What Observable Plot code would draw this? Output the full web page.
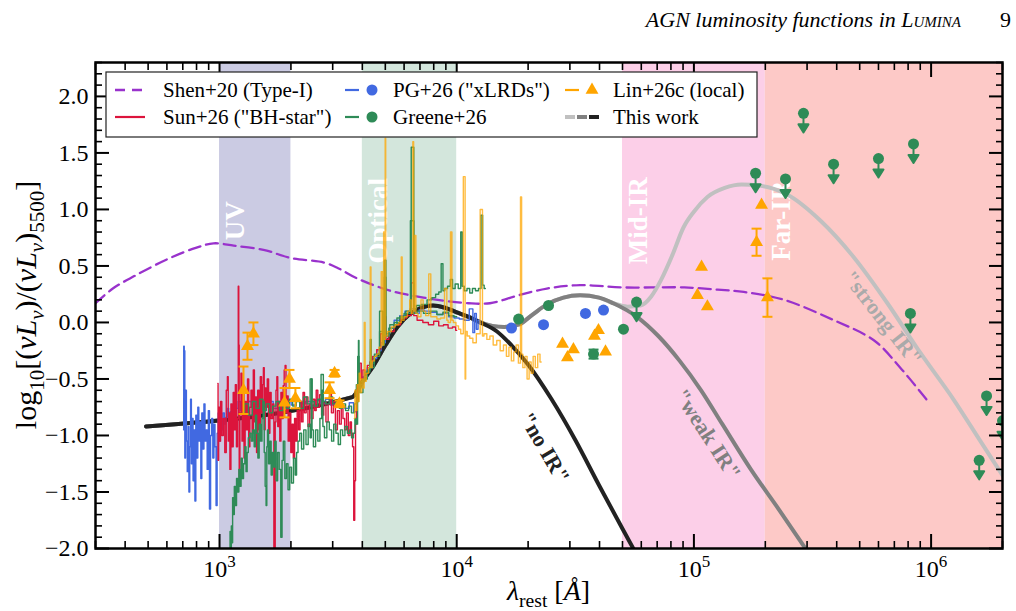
<!DOCTYPE html>
<html>
<head>
<meta charset="utf-8">
<script src="https://cdn.jsdelivr.net/npm/d3@7"></script>
<script src="https://cdn.jsdelivr.net/npm/@observablehq/plot@0.6"></script>
<style>
  body { margin: 0; background: #fff; }
  #wrap { position: relative; width: 1016px; height: 611px; font-family: "Liberation Serif", "Times New Roman", serif; }
  #wrap > svg { position: absolute; left: 0; top: 0; }
  #header { position: absolute; top: 7px; right: 55px; font-family: "Liberation Serif", serif; font-style: italic; font-size: 22px; white-space: nowrap; }
  #pagenum { position: absolute; top: 7px; left: 1000px; font-family: "Liberation Serif", serif; font-size: 22px; }
</style>
</head>
<body>
<div id="wrap">
  <div id="header">AGN luminosity functions in <span style="font-variant: small-caps">Lumina</span></div>
  <div id="pagenum">9</div>
</div>
<script>
// ---------------- wavelength bands ----------------
const bandNames = ["UV", "Optical", "Mid-IR", "Far-IR"];
const bandLo = [1000, 4000, 5e4, 2e5];
const bandHi = [2000, 1e4, 2e5, 3e6];

// ---------------- Shen+20 Type-I template [lambda (A), log ratio] ----------------
const shenSED = [[300,0.17],[355,0.30],[437,0.41],[603,0.56],[794,0.66],[944,0.70],[1148,0.68],[1549,0.64],
  [1995,0.57],[2754,0.53],[3162,0.48],[3802,0.39],[5248,0.28],[7244,0.22],[8318,0.20],[11220,0.17],[13800,0.17],
  [18200,0.24],[23990,0.30],[33110,0.33],[50120,0.31],[91200,0.31],[125900,0.29],[162200,0.27],[239900,0.20],
  [389000,0.02],[575400,-0.16],[741300,-0.40],[955000,-0.68]];

// ---------------- This work: disk-only ("no IR") ----------------
const noIR = [[490,-0.92],[3631,-0.66],[3981,-0.53],[4467,-0.38],[5012,-0.20],[5623,-0.04],[6310,0.07],[7079,0.13],
  [7943,0.15],[8913,0.13],[10000,0.09],[11220,0.05],[12590,0.0],[14790,-0.08],[16980,-0.20],[19950,-0.37],
  [25120,-0.68],[31620,-1.04],[39810,-1.44],[50120,-1.83],[57540,-2.06]];
// hot-dust tail ("weak IR"), continues from noIR at 12590 A
const weakTail = [[14130,-0.03],[15850,-0.04],[18200,-0.02],[20890,0.07],[23990,0.16],[28180,0.22],[33110,0.24],
  [39810,0.22],[45710,0.17],[57540,0.05],[70790,-0.12],[87100,-0.34],[107200,-0.60],[131800,-0.90],[173800,-1.30],
  [229100,-1.66],[302000,-2.03]];
// cold-dust tail ("strong IR"), continues from weak IR at 45710 A
const strongTail = [[52480,0.14],[59570,0.15],[66070,0.23],[72440,0.37],[81280,0.60],[90360,0.84],[100000,0.98],
  [114000,1.11],[134900,1.19],[158500,1.22],[190500,1.21],[248300,1.13],[342000,0.90],[471000,0.58],[654600,0.17],
  [901600,-0.27],[1242000,-0.68],[1614000,-1.05],[2040000,-1.38]];

// ---------------- PG+26 ("xLRDs") stacked spectrum ----------------
const pgSpec = [[705,-0.95],[708,-0.21],[712,-0.25],[716,-1.20],[722,-0.60],[728,-1.05],[734,-1.32],[740,-0.92],
  [746,-1.50],[752,-1.10],[758,-0.68],[764,-1.25],[770,-0.85],[777,-1.40],[784,-0.95],[791,-1.58],[798,-0.82],
  [806,-1.20],[814,-0.75],[822,-1.05],[830,-0.88],[838,-1.38],[846,-0.80],[855,-1.12],[864,-0.72],[873,-1.05],
  [882,-0.95],[892,-1.30],[902,-0.78],[912,-1.65],[922,-1.00],[932,-0.85],[942,-1.20],[952,-0.90],[962,-1.10],
  [972,-1.62],[982,-0.98],[992,-0.80],[1002,-1.05],[1012,-0.88],[1025,-0.95],[1040,-0.80],[1055,-0.90],[1070,-0.84],
  [1085,-0.76],[1100,-0.85],[1120,-0.79],[1140,-0.74],[1160,-0.82],[1185,-0.76],[1210,-0.70],[1240,-0.78],
  [1270,-0.73],[1300,-0.76],[1340,-0.70],[1380,-0.74],[1420,-0.72],[1470,-0.77],[1520,-0.71],[1580,-0.74],
  [1650,-0.70],[1720,-0.76],[1800,-0.72],[1880,-0.75],[1960,-0.70],[2050,-0.73],[2150,-0.69],[2250,-0.72],
  [2360,-0.70],[2480,-0.74],[2600,-0.69],[2730,-0.72],[2870,-0.68],[3000,-0.73],[3150,-0.70],[3300,-0.74],
  [3450,-0.76],[3600,-0.71],[3750,-0.79],[3850,-0.62],[3950,-0.55],[4100,-0.48],[4300,-0.40],[4500,-0.32],
  [4700,-0.25],[4900,-0.18],[5100,-0.12],[5300,-0.05],[5600,0.02],[5900,0.06],[6200,0.10],[6500,0.12],[6800,0.08],
  [7100,0.11],[7500,0.10],[8000,0.09],[8500,0.07],[9000,0.08],[9500,0.05],[10000,0.04],[10500,0.03],[11000,0.02],
  [11600,0.12],[11800,-0.09],[12000,0.08],[12200,-0.06],[12400,0.02],[12600,-0.01]];

// ---------------- Sun+26 ("BH-star") spectrum ----------------
const sunSpec = [[984,-0.54],[988,-1.22],[995,-0.75],[1005,-1.05],[1015,-0.70],[1030,-1.00],[1045,-0.85],
  [1060,-1.15],[1075,-0.60],[1084,-0.48],[1092,-1.05],[1100,-0.80],[1112,-1.30],[1122,-0.72],[1135,-1.10],
  [1149,-0.62],[1160,-0.95],[1172,-0.55],[1185,-1.10],[1196,-0.85],[1203,0.32],[1208,-0.20],[1213,-1.37],
  [1225,-0.80],[1238,-0.45],[1250,-1.05],[1262,-0.62],[1275,-1.20],[1290,-0.70],[1305,-0.95],[1320,-0.50],
  [1335,-1.10],[1350,-0.75],[1365,-0.60],[1380,-0.98],[1396,-0.42],[1410,-0.88],[1425,-0.66],[1440,-1.15],
  [1458,-0.60],[1476,-0.95],[1495,-0.48],[1512,-0.80],[1525,-0.55],[1537,-0.40],[1550,-0.95],[1565,-0.58],
  [1580,-0.75],[1600,-0.50],[1620,-0.98],[1641,-0.62],[1660,-0.85],[1690,-0.72],[1700,-2.05],[1712,-2.05],
  [1722,-0.88],[1738,-0.60],[1752,-0.48],[1768,-0.92],[1785,-0.70],[1805,-1.05],[1825,-0.62],[1845,-0.85],
  [1865,-0.56],[1882,-0.42],[1898,-0.38],[1915,-0.80],[1935,-0.65],[1960,-1.05],[1985,-0.80],[2010,-1.15],
  [2035,-0.90],[2059,-1.20],[2085,-0.85],[2110,-1.05],[2140,-0.78],[2170,-0.95],[2200,-0.70],[2235,-0.88],
  [2264,-0.62],[2300,-0.80],[2339,-0.66],[2380,-0.92],[2420,-0.72],[2460,-0.85],[2500,-0.68],[2540,-0.78],
  [2573,-0.60],[2620,-0.75],[2666,-0.64],[2720,-0.82],[2780,-0.70],[2840,-0.88],[2900,-0.72],[2937,-0.62],
  [2990,-0.80],[3050,-0.70],[3110,-0.95],[3170,-0.78],[3230,-0.90],[3290,-0.72],[3338,-0.85],[3400,-0.95],
  [3460,-0.80],[3520,-1.00],[3580,-0.88],[3617,-0.98],[3660,-1.10],[3700,-1.75],[3730,-1.40],[3760,-0.90],
  [3800,-0.70],[3860,-0.55],[3928,-0.36],[3990,-0.50],[4054,-0.42],[4150,-0.45],[4250,-0.38],[4350,-0.35],
  [4500,-0.30],[4700,-0.24],[4861,-0.10],[4900,-0.18],[5007,0.05],[5050,-0.15],[5300,-0.08],[5600,-0.02],
  [6000,0.04],[6300,0.06],[6563,0.35],[6620,0.06],[7000,0.02],[7400,0.0],[7800,-0.02],[8200,0.01],[8600,-0.03],
  [9000,-0.02],[9400,-0.05],[9800,-0.04],[10000,-0.07]];

// ---------------- Greene+26 spectra ----------------
const greeneSpecA = [[1105,-2.05],[1110,-1.85],[1118,-2.05],[1125,-1.80],[1131,-1.95],[1140,-1.55],[1149,-1.70],
  [1160,-1.45],[1172,-1.62],[1187,-1.38],[1200,-1.50],[1213,-1.30],[1226,-1.45],[1240,-1.20],[1255,-1.38],
  [1270,-1.25],[1287,-1.10],[1300,-1.32],[1315,-1.15],[1330,-1.02],[1351,-0.98],[1370,-1.05],[1390,-0.95],
  [1410,-1.10],[1425,-0.82],[1442,-0.98],[1460,-1.20],[1480,-0.90],[1500,-1.05],[1520,-0.85],[1537,-0.70],
  [1550,-1.15],[1565,-1.45],[1578,-1.62],[1587,-1.10],[1600,-0.95],[1620,-1.25],[1641,-1.05],[1660,-1.35],
  [1680,-1.15],[1700,-1.28],[1720,-1.05],[1745,-1.40],[1770,-1.15],[1800,-1.30],[1825,-1.90],[1845,-1.22],
  [1870,-1.05],[1900,-1.38],[1929,-1.25],[1960,-1.48],[1992,-1.28],[2030,-1.42],[2070,-1.20],[2100,-1.35],
  [2125,-1.15],[2160,-1.05],[2195,-0.98],[2240,-1.12],[2290,-0.95],[2340,-1.08],[2390,-0.90],[2430,-1.02],
  [2445,-0.50],[2465,-0.95],[2510,-1.10],[2573,-0.95],[2620,-1.05],[2680,-0.85],[2715,-0.60],[2740,-0.92],
  [2800,-1.02],[2870,-0.88],[2937,-0.95],[3000,-1.05],[3060,-0.90],[3132,-0.98],[3200,-1.08],[3270,-0.95],
  [3338,-1.00],[3420,-0.92],[3500,-0.98],[3566,-0.95],[3640,-1.02],[3700,-0.98],[3742,-0.85],[3800,-0.90],
  [3840,-0.70],[3865,-0.16],[3880,-0.55],[3950,-0.62],[4100,-0.50],[4300,-0.42],[4340,-0.15],[4380,-0.40],
  [4600,-0.30],[4861,-0.08],[4900,-0.20],[5007,0.55],[5050,-0.12],[5300,-0.05],[5600,0.0],[5900,0.05],
  [6300,0.10],[6563,1.55],[6620,0.12],[6900,0.15],[7300,0.16],[7700,0.20],[8000,0.22],[8300,0.25],[8500,0.27],
  [8700,0.52],[8800,0.28],[9000,0.30],[9300,0.32],[9500,0.38],[9700,0.30],[10000,0.34],[10300,0.30],[10500,0.80],
  [10600,0.32],[10900,0.28],[11200,0.30],[11500,0.26],[11800,0.30],[12200,0.28],[12500,0.30],[12820,0.95],
  [12900,0.33],[13200,0.30]];
const greeneSpecB = [[1250,-0.80],[1300,-0.72],[1350,-0.82],[1400,-0.70],[1450,-0.76],[1500,-0.68],[1550,-0.78],
  [1600,-0.72],[1650,-0.80],[1700,-0.74],[1760,-0.70],[1820,-0.78],[1880,-0.72],[1940,-0.76],[2000,-0.68],
  [2070,-0.74],[2140,-0.70],[2220,-0.76],[2300,-0.66],[2380,-0.72],[2440,-0.50],[2470,-0.70],[2550,-0.74],
  [2640,-0.68],[2720,-0.46],[2760,-0.70],[2850,-0.72],[2950,-0.66],[3050,-0.72],[3150,-0.70],[3250,-0.76],
  [3350,-0.72],[3450,-0.78],[3550,-0.74],[3650,-0.80],[3750,-0.72],[3800,-0.55],[3850,-0.30],[3900,-0.58],
  [4000,-0.52],[4200,-0.44],[4400,-0.36],[4600,-0.28],[4861,0.10],[4900,-0.16],[5007,0.40],[5050,-0.10],
  [5400,-0.02],[5800,0.04],[6200,0.08],[6563,0.90],[6620,0.08],[7000,0.10],[7500,0.08],[8000,0.10],[8500,0.07],
  [9000,0.09],[9500,0.06],[10000,0.05]];

// ---------------- Lin+26c (local) spectrum ----------------
const linSpec = [[3700,-0.85],[3740,-0.60],[3780,-0.78],[3820,-0.55],[3860,-0.70],[3900,-0.45],[3950,-0.62],
  [4000,-0.50],[4050,-0.58],[4102,0.0],[4120,-0.52],[4200,-0.45],[4300,-0.40],[4340,0.49],[4360,-0.40],
  [4450,-0.34],[4550,-0.30],[4650,-0.28],[4750,-0.22],[4861,0.45],[4880,-0.20],[4959,0.80],[4980,-0.15],
  [5007,1.63],[5030,-0.12],[5200,-0.08],[5400,-0.04],[5600,-0.02],[5800,0.0],[5876,0.58],[5900,0.02],[6100,0.05],
  [6300,0.10],[6370,0.20],[6500,0.08],[6563,1.60],[6600,0.10],[6716,0.77],[6740,0.08],[7000,0.05],[7136,0.20],
  [7300,0.10],[7500,0.06],[7750,0.43],[7800,0.05],[8100,0.05],[8400,0.03],[8700,0.04],[9069,0.30],[9100,0.02],
  [9300,0.0],[9532,0.80],[9560,0.02],[9800,0.0],[10050,-0.03],[10300,-0.06],[10500,-0.10],[10830,1.29],
  [10870,-0.50],[10950,-0.08],[11200,-0.12],[11500,-0.14],[11900,-0.18],[12300,-0.10],[12820,1.0],[12860,-0.12],
  [13200,-0.10],[13600,-0.15],[14000,-0.12],[14500,-0.20],[15000,-0.16],[15500,-0.25],[16000,-0.20],[16400,-0.30],
  [16800,-0.22],[17200,-0.34],[17600,-0.26],[18000,-0.20],[18400,-0.36],[18750,1.11],[18800,-0.28],[19200,-0.40],
  [19600,-0.30],[20000,-0.50],[20400,-0.35],[20800,-0.45],[21200,-0.30],[21700,-0.40],[22200,-0.28],[22700,-0.35]];

// ---------------- photometry [lambda, value, error] ----------------
const pgPoints = [[17020,-0.05],[23230,-0.02],[34900,0.08],[41580,0.11]];
const greenePoints = [[18240,0.03,0],[24380,0.15,0],[37740,-0.28,0.04],[50470,-0.06,0]];
const greeneUpperLimits = [[57300,0.18],[182000,1.32],[243300,1.27],[289700,1.85],[388000,1.40],[600000,1.45],
  [843000,1.58],[818000,0.08],[1595000,-1.22],[1713000,-0.65],[2000000,-0.87]];
const linPoints = [[1262,-0.60,0.21],[1312,-0.21,0.12],[1390,-0.10,0.10],[1879,-0.71,0.13],[1972,-0.50,0.08],
  [2089,-0.67,0.09],[2911,-0.60,0.07],[3055,-0.45,0.03],[3206,-0.72,0.03],[27930,-0.19,0],[29300,-0.31,0],
  [31050,-0.24,0],[38100,-0.12,0],[39600,-0.07,0],[42400,-0.26,0],[103500,0.24,0],[107700,0.49,0],[114000,0.14,0],
  [183700,0.71,0.12],[192800,1.04,0],[204200,0.22,0.17]];

// ---------------- curve annotations ----------------
const curveNames = ['"no IR"', '"weak IR"', '"strong IR"'];
const curveNameLam = [23440, 114000, 624000];
const curveNameV = [-1.11, -0.99, 0.035];

// ---------------- legend entries ----------------
const legendNames = ['Shen+20 (Type-I)', 'Sun+26 ("BH-star")', 'PG+26 ("xLRDs")', 'Greene+26', 'Lin+26c (local)', 'This work'];

// ---------------- axis ticks ----------------
const xMajor = [1e3, 1e4, 1e5, 1e6];
const yMajor = [-2, -1.5, -1, -0.5, 0, 0.5, 1, 1.5, 2];

// ================= drawing =================
const SERIF = "'Liberation Serif', 'Times New Roman', serif";
const C = {
  shen: "#9932cc", sun: "#dc143c", pg: "#4169e1", greene: "#2e8b57", lin: "#ffa500",
  noIR: "#222222", weakIR: "#808080", strongIR: "#c0c0c0"
};
const bandFill = ["#cbcbe3", "#d3e6dc", "#fccfe8", "#fdc9c7"];

const rows = pairs => pairs.map(([lam, v, e]) => ({lam, v, e: e || 0}));
const weakIR = noIR.filter(d => d[0] <= 12590).concat(weakTail);
const strongIR = weakIR.filter(d => d[0] <= 45710).concat(strongTail);

const xMinor = [];
for (let k = 2; k <= 6; k++) for (let m = 1; m <= 9; m++) {
  const t = m * 10 ** k;
  if (m !== 1 && t >= 300 && t <= 2e6) xMinor.push(t);
}
const yMinor = d3.range(-20, 24).map(i => i / 10).filter(t => Math.abs(t * 2 - Math.round(t * 2)) > 1e-6);

const bands = bandNames.map((name, i) => ({name, lo: bandLo[i], hi: bandHi[i], mid: bandLo[i] * 1.17}));
const curveLabels = curveNames.map((t, i) => ({t, lam: curveNameLam[i], v: curveNameV[i]}));

// filled down-arrow used for upper limits
const limitArrow = {
  draw(ctx, l) {
    ctx.moveTo(0, 0); ctx.lineTo(0, -l + 7);
    ctx.moveTo(-5, -l + 8); ctx.lineTo(5, -l + 8); ctx.lineTo(0, -l); ctx.closePath();
  }
};
// horizontal cap for error bars
const capSymbol = {
  draw(ctx, size) { const w = Math.sqrt(size / Math.PI); ctx.moveTo(-w, 0); ctx.lineTo(w, 0); }
};

const spec = (data, color, extra = {}) => Plot.line(rows(data), {
  x: "lam", y: "v", stroke: color, strokeWidth: 1.4, curve: "step", clip: true, ...extra
});

const errorBars = (data, color) => {
  const withErr = rows(data).filter(d => d.e > 0);
  return [
    Plot.ruleX(withErr, {x: "lam", y1: d => d.v - d.e, y2: d => d.v + d.e, stroke: color, strokeWidth: 2, clip: true}),
    Plot.dot(withErr, {x: "lam", y: d => d.v - d.e, symbol: capSymbol, r: 5, stroke: color, strokeWidth: 2, clip: true}),
    Plot.dot(withErr, {x: "lam", y: d => d.v + d.e, symbol: capSymbol, r: 5, stroke: color, strokeWidth: 2, clip: true})
  ];
};

const chart = Plot.plot({
  width: 1016,
  height: 611,
  marginLeft: 95,
  marginRight: 14,
  marginTop: 62,
  marginBottom: 63,
  style: {fontFamily: SERIF, fontSize: "24px", background: "transparent", color: "black", overflow: "visible"},
  x: {type: "log", domain: [300, 2e6]},
  y: {domain: [-2, 2.3]},
  marks: [
    // shaded bands
    ...bands.map((b, i) => Plot.rect([b], {x1: "lo", x2: "hi", fill: bandFill[i], clip: true})),
    Plot.text(bands, {x: "mid", y: 0.9, text: "name", rotate: -90, fill: "white", fontSize: 27, fontWeight: "bold", fontFamily: SERIF}),

    // Shen+20 template
    Plot.line(rows(shenSED), {x: "lam", y: "v", stroke: C.shen, strokeWidth: 2.3, strokeDasharray: "12,6", curve: "catmull-rom", clip: true}),

    // this work
    Plot.line(rows(strongIR), {x: "lam", y: "v", stroke: C.strongIR, strokeWidth: 4, curve: "monotone-x", clip: true}),
    Plot.line(rows(weakIR), {x: "lam", y: "v", stroke: C.weakIR, strokeWidth: 4, curve: "monotone-x", clip: true}),
    Plot.line(rows(noIR), {x: "lam", y: "v", stroke: C.noIR, strokeWidth: 4, curve: "monotone-x", clip: true}),

    // spectra
    spec(pgSpec, C.pg),
    spec(sunSpec, C.sun),
    spec(greeneSpecA, C.greene),
    spec(greeneSpecB, C.greene),
    spec(linSpec, C.lin, {strokeOpacity: 0.75}),

    // curve names
    Plot.text(curveLabels.slice(0, 1), {x: "lam", y: "v", text: "t", rotate: 60, fill: C.noIR, fontSize: 22, fontWeight: "bold", fontFamily: SERIF}),
    Plot.text(curveLabels.slice(1, 2), {x: "lam", y: "v", text: "t", rotate: 57, fill: C.weakIR, fontSize: 22, fontWeight: "bold", fontFamily: SERIF}),
    Plot.text(curveLabels.slice(2, 3), {x: "lam", y: "v", text: "t", rotate: 52, fill: "#aaaaaa", fontSize: 22, fontWeight: "bold", fontFamily: SERIF}),

    // photometry
    Plot.dot(rows(pgPoints), {x: "lam", y: "v", r: 5.5, fill: C.pg, clip: true}),
    ...errorBars(greenePoints, C.greene),
    Plot.dot(rows(greenePoints), {x: "lam", y: "v", r: 5.5, fill: C.greene, clip: true}),
    Plot.vector(rows(greeneUpperLimits), {x: "lam", y: "v", length: 19, rotate: 180, anchor: "start", shape: limitArrow, stroke: C.greene, fill: C.greene, strokeWidth: 2, clip: true}),
    Plot.dot(rows(greeneUpperLimits), {x: "lam", y: "v", r: 5.5, fill: C.greene, clip: true}),
    ...errorBars(linPoints, C.lin),
    Plot.dot(rows(linPoints), {x: "lam", y: "v", symbol: "triangle", r: 4.8, fill: C.lin, clip: true}),

    // inward ticks on all four sides
    Plot.axisX({anchor: "bottom", ticks: xMajor, tickSize: -14, strokeWidth: 2, fill: "none"}),
    Plot.axisX({anchor: "bottom", ticks: xMinor, tickSize: -7, strokeWidth: 1.6, fill: "none"}),
    Plot.axisX({anchor: "top", ticks: xMajor, tickSize: -14, strokeWidth: 2, fill: "none"}),
    Plot.axisX({anchor: "top", ticks: xMinor, tickSize: -7, strokeWidth: 1.6, fill: "none"}),
    Plot.axisY({anchor: "left", ticks: yMajor, tickSize: -14, strokeWidth: 2, fill: "none"}),
    Plot.axisY({anchor: "left", ticks: yMinor, tickSize: -7, strokeWidth: 1.6, fill: "none"}),
    Plot.axisY({anchor: "right", ticks: yMajor, tickSize: -14, strokeWidth: 2, fill: "none"}),
    Plot.axisY({anchor: "right", ticks: yMinor, tickSize: -7, strokeWidth: 1.6, fill: "none"}),

    // tick labels
    Plot.axisX({anchor: "bottom", ticks: xMajor, tickSize: 0, tickPadding: 11, fontSize: 24, fontFamily: SERIF, label: null,
      tickFormat: d => "10^" + Math.round(Math.log10(d))}),
    Plot.axisY({anchor: "left", ticks: yMajor, tickSize: 0, tickPadding: 7, fontSize: 24, fontFamily: SERIF, label: null,
      tickFormat: d => d.toFixed(1).replace("-", "\u2212")}),

    Plot.frame({stroke: "black", strokeWidth: 2.5})
  ]
});

const wrap = document.getElementById("wrap");
wrap.insertBefore(chart, wrap.firstChild);

const svg = d3.select(chart);
svg.selectAll("text").style("font-family", SERIF).style("font-variant", "normal");

// superscript exponents on the x tick labels
svg.selectAll("text").filter(function () { return /^10\^\d$/.test(this.textContent); }).each(function () {
  const [base, exp] = this.textContent.split("^");
  const t = d3.select(this);
  t.text(null);
  t.append("tspan").text(base);
  t.append("tspan").attr("dy", "-0.55em").attr("font-size", "17px").text(exp);
});

// math-style text helper: parts = [{t, it, sub}]
function addMath(sel, parts, size) {
  let shift = 0;
  for (const p of parts) {
    const ts = sel.append("tspan").text(p.t);
    const target = p.sub ? size * 0.25 : 0;
    if (target !== shift) { ts.attr("dy", target - shift); shift = target; }
    ts.attr("font-size", p.sub ? size * 0.7 : size);
    if (p.it) ts.attr("font-style", "italic");
  }
}

const plotLeft = 95, plotRight = 1016 - 14, plotTop = 62, plotBottom = 611 - 63;

// x axis title
const xt = svg.append("text")
  .attr("x", (plotLeft + plotRight) / 2).attr("y", plotBottom + 52)
  .attr("text-anchor", "middle").style("font-family", SERIF);
addMath(xt, [{t: "\u03bb", it: true}, {t: "rest", sub: true}, {t: " ["}, {t: "\u00c5", it: true}, {t: "]"}], 28);

// y axis title
const yt = svg.append("text")
  .attr("transform", `translate(36,${(plotTop + plotBottom) / 2}) rotate(-90)`)
  .attr("text-anchor", "middle").style("font-family", SERIF);
addMath(yt, [{t: "log"}, {t: "10", sub: true}, {t: "[("}, {t: "\u03bd", it: true}, {t: "L", it: true},
  {t: "\u03bd", it: true, sub: true}, {t: ")/("}, {t: "\u03bd", it: true}, {t: "L", it: true},
  {t: "\u03bd", it: true, sub: true}, {t: ")"}, {t: "5500", sub: true}, {t: "]"}], 30);

// legend
const legendColors = [C.shen, C.sun, C.pg, C.greene, C.lin, null];
const lg = d3.select(wrap).append("svg")
  .attr("width", 1016).attr("height", 611)
  .style("position", "absolute").style("left", 0).style("top", 0).style("pointer-events", "none");
lg.append("rect").attr("x", 106).attr("y", 72).attr("width", 651).attr("height", 65)
  .attr("fill", "white").attr("stroke", "#222").attr("stroke-width", 1.2);
const colX = [113, 343, 563], rowY = [90, 117];
legendNames.forEach((name, i) => {
  const col = Math.floor(i / 2), row = i % 2;
  const x0 = colX[col], y0 = rowY[row], color = legendColors[i];
  const g = lg.append("g");
  if (i === 0) {
    g.append("line").attr("x1", x0 + 2).attr("x2", x0 + 32).attr("y1", y0).attr("y2", y0)
      .attr("stroke", color).attr("stroke-width", 2.3).attr("stroke-dasharray", "10,7");
  } else if (i === 1) {
    g.append("line").attr("x1", x0 + 2).attr("x2", x0 + 32).attr("y1", y0).attr("y2", y0)
      .attr("stroke", color).attr("stroke-width", 2.2);
  } else if (i === 5) {
    [C.strongIR, C.weakIR, C.noIR].forEach((c, k) => {
      g.append("line").attr("x1", x0 + 2 + k * 12).attr("x2", x0 + 12 + k * 12).attr("y1", y0).attr("y2", y0)
        .attr("stroke", c).attr("stroke-width", 4);
    });
  } else {
    g.append("line").attr("x1", x0 + 2).attr("x2", x0 + 16).attr("y1", y0).attr("y2", y0)
      .attr("stroke", color).attr("stroke-width", 2.2);
    if (i === 4) {
      g.append("path").attr("d", d3.symbol(d3.symbolTriangle, 72)()).attr("transform", `translate(${x0 + 29},${y0})`).attr("fill", color);
    } else {
      g.append("circle").attr("cx", x0 + 29).attr("cy", y0).attr("r", 5.5).attr("fill", color);
    }
  }
  g.append("text").attr("x", x0 + 50).attr("y", y0 + 7).attr("font-size", 21)
    .style("font-family", SERIF).text(name);
});
</script>
</body>
</html>
